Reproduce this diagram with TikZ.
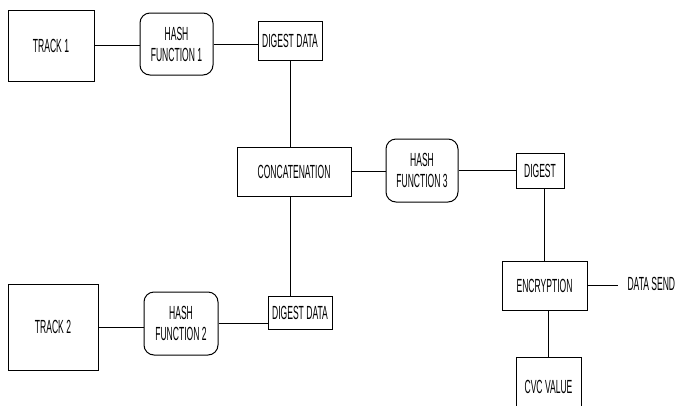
\documentclass[tikz,border=0pt]{standalone}
\usepackage{fontspec}
\setmainfont[FakeStretch=0.45]{Liberation Sans}
\usetikzlibrary{positioning}

\begin{document}
\begin{tikzpicture}[x=1pt,y=-1pt,line width=1pt,box/.style={draw, inner sep=0pt, font=\fontsize{19}{21}\selectfont},hashbox/.style={box, rounded corners=10pt, align=center},plain/.style={inner sep=0pt, font=\fontsize{19}{21}\selectfont}]
\useasboundingbox (0,0) rectangle (677,405);
\clip (0,0) rectangle (677,405);
% first track
\node[box, minimum width=86pt, minimum height=71pt] (track1) at (51,45.5) {TRACK 1};
\node[hashbox, minimum width=73pt, minimum height=62pt] (hash1) at (176.5,44) {HASH\\FUNCTION 1};
\node[box, minimum width=64pt, minimum height=39pt] (dig1) at (290,40.5) {DIGEST DATA};
% second track
\node[box, minimum width=90pt, minimum height=86pt] (track2) at (53,327) {TRACK 2};
\node[hashbox, minimum width=74pt, minimum height=63pt] (hash2) at (181,323.5) {HASH\\FUNCTION 2};
\node[box, minimum width=64pt, minimum height=33pt] (dig2) at (300,312.5) {DIGEST DATA};
% middle and output
\node[box, minimum width=114pt, minimum height=49pt] (concat) at (294,171.5) {CONCATENATION};
\node[hashbox, minimum width=72pt, minimum height=63pt] (hash3) at (422,170.5) {HASH\\FUNCTION 3};
\node[box, minimum width=48pt, minimum height=35pt] (digest) at (540,170.5) {DIGEST};
\node[box, minimum width=85pt, minimum height=49pt] (encrypt) at (544.5,285.5) {ENCRYPTION};
\node[box, minimum width=65pt, minimum height=60pt, text depth=0pt] (cvc) at (548.5,387) {CVC VALUE};
\node[plain, anchor=west] (send) at (627,284) {DATA SEND};
% connections
\draw (track1.east) -- (track1.east -| hash1.west);
\draw (hash1.east) -- (hash1.east -| dig1.west);
\draw (dig1.south) -- (dig1.south |- concat.north);
\draw (track2.east) -- (track2.east -| hash2.west);
\draw (hash2.east) -- (hash2.east -| dig2.west);
\draw ([xshift=-4pt]concat.south) -- ([xshift=-4pt]concat.south |- dig2.north);
\draw (concat.east) -- (concat.east -| hash3.west);
\draw (hash3.east) -- (hash3.east -| digest.west);
\draw (encrypt.north) -- (encrypt.north |- digest.south);
\draw (cvc.north) -- (cvc.north |- encrypt.south);
\draw[shorten >=9pt] (encrypt.east) -- (encrypt.east -| send.west);
\end{tikzpicture}
\end{document}
